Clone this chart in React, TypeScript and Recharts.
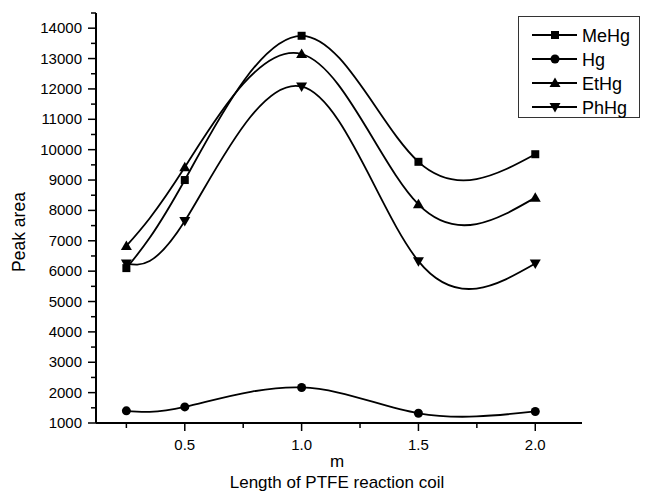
import { LineChart, Line, XAxis, YAxis, Legend } from "recharts";

// coil length (m)
const lengths = [0.25, 0.5, 1.0, 1.5, 2.0];
// peak areas
const meHg = [6100, 9000, 13750, 9600, 9850];
const hg = [1400, 1530, 2170, 1320, 1380];
const etHg = [6830, 9420, 13150, 8200, 8420];
const phHg = [6250, 7650, 12080, 6330, 6250];

const xTicks = [0.25, 0.5, 0.75, 1.0, 1.25, 1.5, 1.75, 2.0];
const xLabels = [0.5, 1.0, 1.5, 2.0];
const yTicks = [
  1000, 1500, 2000, 2500, 3000, 3500, 4000, 4500, 5000, 5500, 6000, 6500, 7000, 7500,
  8000, 8500, 9000, 9500, 10000, 10500, 11000, 11500, 12000, 12500, 13000, 13500, 14000, 14500,
];
const yLabels = [
  1000, 2000, 3000, 4000, 5000, 6000, 7000, 8000, 9000, 10000, 11000, 12000, 13000, 14000,
];

const series = [
  { key: "MeHg", shape: "square" },
  { key: "Hg", shape: "circle" },
  { key: "EtHg", shape: "up" },
  { key: "PhHg", shape: "down" },
];

const data = lengths.map((x, i) => ({
  x,
  MeHg: meHg[i],
  Hg: hg[i],
  EtHg: etHg[i],
  PhHg: phHg[i],
}));

const FONT = "Arial, 'Liberation Sans', sans-serif";

function Marker({ shape, cx, cy }: { shape: string; cx: number; cy: number }) {
  if (shape === "square") return <rect x={cx - 4} y={cy - 4} width={8} height={8} fill="#000" />;
  if (shape === "circle") return <circle cx={cx} cy={cy} r={4.5} fill="#000" />;
  if (shape === "up")
    return <polygon points={`${cx},${cy - 5.5} ${cx + 5.5},${cy + 4} ${cx - 5.5},${cy + 4}`} fill="#000" />;
  return <polygon points={`${cx},${cy + 5.5} ${cx + 5.5},${cy - 4} ${cx - 5.5},${cy - 4}`} fill="#000" />;
}

function YTick({ x, y, payload }: any) {
  const major = yLabels.includes(payload.value);
  return (
    <g>
      <line x1={x - (major ? 8 : 5)} x2={x} y1={y} y2={y} stroke="#000" strokeWidth={1.5} />
      {major && (
        <text x={x - 14} y={y + 5} textAnchor="end" fontSize={15} fontFamily={FONT} fill="#000">
          {payload.value}
        </text>
      )}
    </g>
  );
}

function XTick({ x, y, payload }: any) {
  const major = xLabels.includes(payload.value);
  return (
    <g>
      <line x1={x} x2={x} y1={y} y2={y + (major ? 8 : 5)} stroke="#000" strokeWidth={1.5} />
      {major && (
        <text x={x} y={y + 27} textAnchor="middle" fontSize={15} fontFamily={FONT} fill="#000">
          {payload.value.toFixed(1)}
        </text>
      )}
    </g>
  );
}

function LegendBox() {
  return (
    <svg width={122} height={102} style={{ display: "block" }}>
      <rect x={0.5} y={0.5} width={121} height={101} fill="#fff" stroke="#333" strokeWidth={1} />
      {series.map((s, i) => {
        const cy = 19 + i * 24;
        return (
          <g key={s.key}>
            <line x1={14} x2={59} y1={cy} y2={cy} stroke="#000" strokeWidth={1.8} />
            <Marker shape={s.shape} cx={37} cy={cy} />
            <text x={64} y={cy + 6.5} fontSize={18} fontFamily={FONT} fill="#000">
              {s.key}
            </text>
          </g>
        );
      })}
    </svg>
  );
}

export default function App() {
  return (
    <div style={{ position: "absolute", left: 0, top: 0 }}>
      <LineChart
        width={649}
        height={494}
        data={data}
        margin={{ top: 13, right: 67, left: 0, bottom: 41 }}
        style={{ fontFamily: FONT }}
      >
        <XAxis
          dataKey="x"
          type="number"
          domain={[0.12, 2.2]}
          ticks={xTicks}
          interval={0}
          height={30}
          tickSize={0}
          tickMargin={0}
          tickLine={false}
          axisLine={{ stroke: "#000", strokeWidth: 2 }}
          tick={<XTick />}
          label={{
            content: () => (
              <g fontFamily={FONT} fill="#000">
                <text x={337} y={467} textAnchor="middle" fontSize={17}>m</text>
                <text x={337} y={488} textAnchor="middle" fontSize={17}>Length of PTFE reaction coil</text>
              </g>
            ),
          }}
        />
        <YAxis
          type="number"
          domain={[1000, 14500]}
          ticks={yTicks}
          interval={0}
          width={96}
          tickSize={0}
          tickMargin={0}
          tickLine={false}
          axisLine={{ stroke: "#000", strokeWidth: 2 }}
          tick={<YTick />}
          label={{
            content: () => (
              <text
                x={25}
                y={232}
                transform="rotate(-90 25 232)"
                textAnchor="middle"
                fontSize={17.5}
                fontFamily={FONT}
                fill="#000"
              >
                Peak area
              </text>
            ),
          }}
        />
        <Legend
          layout="vertical"
          align="center"
          verticalAlign="middle"
          wrapperStyle={{ position: "absolute", left: 518, top: 16, width: 122, height: 102 }}
          content={() => <LegendBox />}
        />
        {series.map((s) => (
          <Line
            key={s.key}
            dataKey={s.key}
            type="natural"
            stroke="#000"
            strokeWidth={1.8}
            isAnimationActive={false}
            dot={(p: any) => <Marker key={`${s.key}-${p.index}`} shape={s.shape} cx={p.cx} cy={p.cy} />}
            activeDot={false}
          />
        ))}
      </LineChart>
    </div>
  );
}
